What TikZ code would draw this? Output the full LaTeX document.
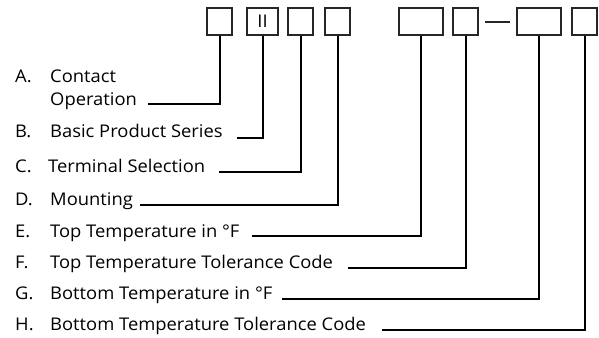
\documentclass[tikz,border=0pt]{standalone}
\usepackage{fontspec}
\setmainfont[FakeStretch=1.05]{Open Sans}
\begin{document}
\begin{tikzpicture}[x=1pt,y=-1pt,
  cbox/.style={draw=black!85,line width=1.1pt,inner sep=0pt,minimum height=27pt},
  lbl/.style={anchor=base west,inner sep=0pt,font=\fontsize{17.5}{21}\selectfont},
  conn/.style={line width=2pt,line cap=butt}]
\useasboundingbox (0,0) rectangle (599,337);
% boxes
\node[cbox,minimum width=25pt] (b1) at (219.5,21.5) {};
\node[cbox,minimum width=31pt,font=\fontsize{17.5}{21}\selectfont] (b2) at (262.5,21.5) {II};
\node[cbox,minimum width=25pt] (b3) at (300.5,21.5) {};
\node[cbox,minimum width=25pt] (b4) at (337.5,21.5) {};
\node[cbox,minimum width=44pt] (b5) at (421,21.5) {};
\node[cbox,minimum width=25pt] (b6) at (465.5,21.5) {};
\node[cbox,minimum width=44pt] (b7) at (539,21.5) {};
\node[cbox,minimum width=25pt] (b8) at (584.5,21.5) {};
\coordinate (d1) at (485,22);
\coordinate (d2) at (510,22);
\draw[line width=1.1pt,black!85] (d1) -- (d2);
% labels
\node[lbl] (kA) at (15,82) {A.};
\node[lbl] (tA1) at (50,82) {Contact};
\node[lbl] (tA2) at (50,105) {Operation};
\node[lbl] (kB) at (15,137) {B.};
\node[lbl] (tB) at (50,137) {Basic Product Series};
\node[lbl] (kC) at (15,172) {C.};
\node[lbl] (tC) at (48,172) {Terminal Selection};
\node[lbl] (kD) at (15,205) {D.};
\node[lbl] (tD) at (50,205) {Mounting};
\node[lbl] (kE) at (15,237) {E.};
\node[lbl] (tE) at (50,237) {Top Temperature in °F};
\node[lbl] (kF) at (15,268) {F.};
\node[lbl] (tF) at (50,268) {Top Temperature Tolerance Code};
\node[lbl] (kG) at (15,299) {G.};
\node[lbl] (tG) at (50,299) {Bottom Temperature in °F};
\node[lbl] (kH) at (15,330) {H.};
\node[lbl] (tH) at (50,330) {Bottom Temperature Tolerance Code};
% connector start points
\coordinate (sA) at (148,104);
\coordinate (sB) at (237,138);
\coordinate (sC) at (219,172);
\coordinate (sD) at (140,205);
\coordinate (sE) at (252,236);
\coordinate (sF) at (348,268);
\coordinate (sG) at (282,299);
\coordinate (sH) at (382,330);
\draw[conn] (sA) -| (b1.south);
\draw[conn] (sB) -| (b2.south);
\draw[conn] (sC) -| (b3.south);
\draw[conn] (sD) -| (b4.south);
\draw[conn] (sE) -| (b5.south);
\draw[conn] (sF) -| (b6.south);
\draw[conn] (sG) -| (b7.south);
\draw[conn] (sH) -| (b8.south);
\end{tikzpicture}
\end{document}
